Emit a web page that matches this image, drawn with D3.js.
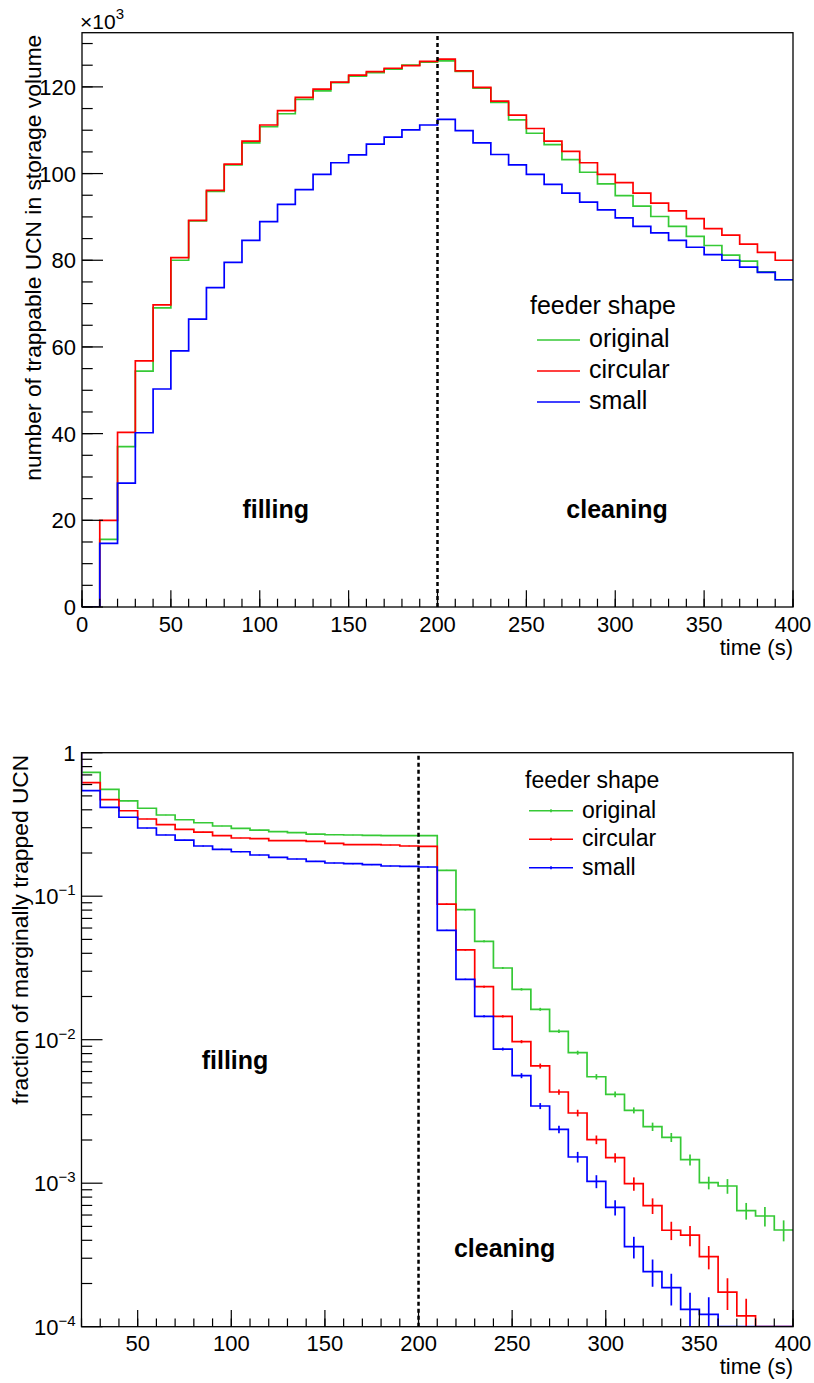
<!DOCTYPE html>
<html>
<head>
<meta charset="utf-8">
<script src="https://cdn.jsdelivr.net/npm/d3@7"></script>
<style>
  body { margin: 0; background: #fff; }
  svg { display: block; }
  text { font-family: "Liberation Sans", Arial, Helvetica, sans-serif; fill: #000; }
</style>
</head>
<body>
<svg id="chart" width="814" height="1383"></svg>
<script>
// ---- data -------------------------------------------------------------
const BIN = 10;                       // bin width, s
const shapes = ["original", "circular", "small"];
const shapeColors = ["#36c936", "#ff0000", "#0000ff"];

// trappable UCN in the storage volume (units of 10^3), 10 s bins from t = 0
const trapStart = 0;
const trapOriginal = [0, 15.6, 37.0, 54.4, 69.0, 80.0, 89.1, 95.9, 102.0, 107.1,
  110.8, 113.8, 117.1, 119.1, 121.0, 122.5, 123.3, 124.1, 125.0, 125.7,
  126.0, 123.6, 119.7, 116.4, 112.4, 109.3, 106.7, 103.2, 100.3, 97.6,
  94.9, 92.5, 90.1, 87.8, 85.5, 83.4, 81.2, 79.8, 77.3, 75.5];
const trapCircular = [0, 20.0, 40.3, 56.8, 69.7, 80.6, 89.2, 96.1, 102.2, 107.5,
  111.2, 114.5, 117.6, 119.5, 121.1, 122.7, 123.5, 124.3, 124.9, 125.9,
  126.4, 123.7, 119.9, 116.7, 113.5, 110.4, 107.5, 105.1, 102.5, 99.8,
  97.9, 95.5, 93.2, 91.4, 89.6, 87.3, 85.8, 83.7, 81.8, 80.0];
const trapSmall = [0, 14.7, 28.6, 40.2, 50.3, 59.1, 66.4, 73.7, 79.5, 84.6,
  88.9, 92.9, 96.3, 99.8, 102.5, 104.3, 106.8, 108.4, 110.1, 111.2,
  112.5, 109.9, 107.1, 104.4, 102.0, 99.8, 97.5, 95.5, 93.4, 91.6,
  89.8, 87.8, 86.3, 84.6, 83.0, 81.3, 80.0, 78.4, 77.2, 75.5];

// fraction of marginally trapped UCN, 10 s bins from t = 10
const margStart = 10;
const margOriginal = [1, 0.730, 0.556, 0.461, 0.410, 0.368, 0.341, 0.325, 0.3085, 0.297,
  0.289, 0.2815, 0.277, 0.271, 0.268, 0.267, 0.2655, 0.264, 0.264, 0.264,
  0.1515, 0.0805, 0.0485, 0.0316, 0.02244, 0.01629, 0.01144, 0.00812, 0.00552, 0.004163,
  0.00322, 0.002477, 0.002088, 0.001459, 0.001008, 0.000956, 0.000643, 0.000591, 0.000472];
const margCircular = [1, 0.618, 0.471, 0.394, 0.345, 0.315, 0.292, 0.280, 0.264, 0.2545,
  0.2517, 0.2438, 0.2438, 0.241, 0.2336, 0.2285, 0.2285, 0.2274, 0.2238, 0.2227,
  0.0882, 0.0422, 0.0234, 0.01455, 0.00969, 0.00656, 0.00432, 0.003085, 0.00201, 0.001507,
  0.000992, 0.000697, 0.00047, 0.000434, 0.000308, 0.000174, 0.000119, 0, 0];
const margSmall = [1, 0.5434, 0.416, 0.355, 0.2987, 0.267, 0.2463, 0.2238, 0.2123, 0.204,
  0.1937, 0.1866, 0.1816, 0.175, 0.1703, 0.1684, 0.1658, 0.1624, 0.1615, 0.1598,
  0.0578, 0.02635, 0.01455, 0.00861, 0.005617, 0.00345, 0.00237, 0.001523, 0.00103, 0.000679,
  0.000361, 0.0002417, 0.000187, 0.000132, 0.000122, 0, 0, 0, 0];

// statistical uncertainties of the fractions
const margOriginalErr = [0, 0.003, 0.0025, 0.002, 0.002, 0.0018, 0.0017, 0.0016, 0.0016, 0.0015,
  0.0015, 0.0015, 0.0015, 0.0014, 0.0014, 0.0014, 0.0014, 0.0014, 0.0014, 0.0014,
  0.0012, 0.00097, 0.00078, 0.0005, 0.00045, 0.00039, 0.00032, 0.00026, 0.000236, 0.000189,
  0.000155, 0.000166, 0.000151, 0.000128, 0.000102, 0.000112, 0.0000855, 0.000091, 0.0000787];
const margCircularErr = [0, 0.003, 0.0025, 0.002, 0.0018, 0.0017, 0.0016, 0.0015, 0.0015, 0.0014,
  0.0014, 0.0014, 0.0014, 0.0013, 0.0013, 0.0013, 0.0013, 0.0013, 0.0013, 0.0013,
  0.0008, 0.0005, 0.00035, 0.00027, 0.00024, 0.00026, 0.000185, 0.000165, 0.00014, 0.000113,
  0.000106, 0.000087, 0.0000687, 0.0000702, 0.000057, 0.0000433, 0.0000373, 0, 0];
const margSmallErr = [0, 0.0028, 0.0024, 0.002, 0.0018, 0.0016, 0.0015, 0.0014, 0.0014, 0.0013,
  0.0013, 0.0013, 0.0012, 0.0012, 0.0012, 0.0012, 0.0012, 0.0012, 0.0012, 0.0012,
  0.0006, 0.0003, 0.00023, 0.0002, 0.000225, 0.000166, 0.000139, 0.00013, 0.000107, 0.0000831,
  0.0000621, 0.0000522, 0.0000466, 0.0000405, 0.0000383, 0, 0, 0, 0];

// axes
const topXDomain = [0, 400];
const topYDomain = [0, 132.5];
const topXTicks = [0, 50, 100, 150, 200, 250, 300, 350, 400];
const topYTicks = [0, 20, 40, 60, 80, 100, 120];
const botXDomain = [20, 400];
const botYDomain = [1e-4, 1];
const botXTicks = [50, 100, 150, 200, 250, 300, 350, 400];
const botYExponents = [-4, -3, -2, -1, 0];
const switchTime = 200;               // end of filling / start of cleaning

// ---- drawing ------------------------------------------------------------
const svg = d3.select("#chart");
const FONT_AXIS = 22;
const FONT_TITLE = 22.8;

function stepPoints(start, values) {
  const pts = [];
  values.forEach((v, i) => {
    pts.push([start + i * BIN, v], [start + (i + 1) * BIN, v]);
  });
  return pts;
}

function panel(cfg) {
  const g = svg.append("g");
  const x = cfg.x, y = cfg.y;
  const [x0, x1] = x.range();
  const [yb, yt] = y.range();
  const id = "clip" + cfg.name;
  svg.append("clipPath").attr("id", id)
    .append("rect").attr("x", x0).attr("y", yt).attr("width", x1 - x0).attr("height", yb - yt);

  const plot = g.append("g").attr("clip-path", `url(#${id})`);
  const yv = v => y(Math.max(v, cfg.yFloor));
  const line = d3.line().x(d => x(d[0])).y(d => yv(d[1]));

  cfg.series.forEach((s, k) => {
    plot.append("path")
      .attr("d", line(stepPoints(cfg.start, s.values)))
      .attr("fill", "none").attr("stroke", shapeColors[k])
      .attr("stroke-width", 1.7).attr("stroke-linejoin", "miter");
    if (s.errors) {
      s.values.forEach((v, i) => {
        const e = s.errors[i];
        if (!(v > 0) || !(e > 0)) return;
        const tc = cfg.start + (i + 0.5) * BIN;
        plot.append("line")
          .attr("x1", x(tc)).attr("x2", x(tc))
          .attr("y1", yv(v - e)).attr("y2", yv(v + e))
          .attr("stroke", shapeColors[k]).attr("stroke-width", 1.7);
      });
    }
  });

  // phase separator
  g.append("line")
    .attr("x1", x(switchTime)).attr("x2", x(switchTime))
    .attr("y1", yb).attr("y2", yt)
    .attr("stroke", "#000").attr("stroke-width", 2.5).attr("stroke-dasharray", "4 3");

  // frame
  g.append("rect").attr("x", x0).attr("y", yt).attr("width", x1 - x0).attr("height", yb - yt)
    .attr("fill", "none").attr("stroke", "#000").attr("stroke-width", 1.3);

  // x ticks
  cfg.xMinor.forEach(t => {
    g.append("line").attr("x1", x(t)).attr("x2", x(t)).attr("y1", yb).attr("y2", yb - 8.3)
      .attr("stroke", "#000").attr("stroke-width", 1.2);
  });
  cfg.xTicks.forEach(t => {
    g.append("line").attr("x1", x(t)).attr("x2", x(t)).attr("y1", yb).attr("y2", yb - 16.7)
      .attr("stroke", "#000").attr("stroke-width", 1.2);
    g.append("text").attr("x", x(t)).attr("y", yb + cfg.xLabelDy)
      .attr("text-anchor", "middle").attr("font-size", FONT_AXIS).text(t);
  });
  // y ticks
  cfg.yMinor.forEach(t => {
    g.append("line").attr("x1", x0).attr("x2", x0 + 10.7).attr("y1", y(t)).attr("y2", y(t))
      .attr("stroke", "#000").attr("stroke-width", 1.2);
  });
  cfg.yTicks.forEach(t => {
    g.append("line").attr("x1", x0).attr("x2", x0 + 21).attr("y1", y(t)).attr("y2", y(t))
      .attr("stroke", "#000").attr("stroke-width", 1.2);
    cfg.yLabel(g.append("text").attr("x", x0 - 6).attr("y", y(t) + 8)
      .attr("text-anchor", "end").attr("font-size", FONT_AXIS), t);
  });

  // axis titles
  g.append("text").attr("x", x1).attr("y", yb + cfg.xTitleDy)
    .attr("text-anchor", "end").attr("font-size", FONT_AXIS).text("time (s)");
  g.append("text")
    .attr("transform", `translate(${cfg.yTitleX},${yt + 2}) rotate(-90)`)
    .attr("text-anchor", "end").attr("font-size", FONT_TITLE).text(cfg.yTitle);

  // phase labels
  cfg.phaseLabels.forEach(p => {
    g.append("text").attr("x", x(p.t)).attr("y", p.y)
      .attr("text-anchor", "middle").attr("font-size", 25).attr("font-weight", "bold").text(p.text);
  });

  // legend
  const L = cfg.legend;
  g.append("text").attr("x", L.x).attr("y", L.titleY).attr("font-size", L.font).text("feeder shape");
  shapes.forEach((name, k) => {
    const ry = L.rowY + k * L.rowGap;
    g.append("line").attr("x1", L.lineX).attr("x2", L.lineX + L.lineLen).attr("y1", ry).attr("y2", ry)
      .attr("stroke", shapeColors[k]).attr("stroke-width", 1.6);
    if (L.errMark) {
      g.append("line").attr("x1", L.lineX + L.lineLen / 2).attr("x2", L.lineX + L.lineLen / 2)
        .attr("y1", ry - 1.5).attr("y2", ry + 1.5).attr("stroke", shapeColors[k]).attr("stroke-width", 1.6);
    }
    g.append("text").attr("x", L.textX).attr("y", ry + L.textDy).attr("font-size", L.font).text(name);
  });
  return g;
}

// upper panel: number of trappable UCN
const xTop = d3.scaleLinear().domain(topXDomain).range([82, 793]);
const yTop = d3.scaleLinear().domain(topYDomain).range([607, 32.7]);
const gTop = panel({
  name: "Top", x: xTop, y: yTop, start: trapStart, yFloor: -Infinity,
  series: [{ values: trapOriginal }, { values: trapCircular }, { values: trapSmall }],
  xTicks: topXTicks, xMinor: d3.range(0, 401, 10),
  yTicks: topYTicks, yMinor: d3.range(0, 132.5, 5),
  yLabel: (t, v) => t.text(v),
  xLabelDy: 25, xTitleDy: 48,
  yTitle: "number of trappable UCN in storage volume", yTitleX: 41,
  phaseLabels: [{ t: 109, y: 518, text: "filling" }, { t: 301, y: 518, text: "cleaning" }],
  legend: { x: 530, titleY: 314, font: 25, rowY: 340, rowGap: 31, lineX: 537, lineLen: 43,
            textX: 589, textDy: 7, errMark: false }
});
// common factor of the upper y axis
const mult = gTop.append("text").attr("x", 80).attr("y", 29).attr("font-size", 21);
mult.append("tspan").text("\u00d710");
mult.append("tspan").attr("dy", -10).attr("font-size", 15).text("3");

// lower panel: fraction of marginally trapped UCN
const xBot = d3.scaleLinear().domain(botXDomain).range([81.5, 793]);
const yBot = d3.scaleLog().domain(botYDomain).range([1326.7, 752.7]);
const botMinor = [];
botYExponents.slice(0, -1).forEach(e => d3.range(2, 10).forEach(m => botMinor.push(m * Math.pow(10, e))));
panel({
  name: "Bot", x: xBot, y: yBot, start: margStart, yFloor: botYDomain[0],
  series: [{ values: margOriginal, errors: margOriginalErr },
           { values: margCircular, errors: margCircularErr },
           { values: margSmall, errors: margSmallErr }],
  xTicks: botXTicks, xMinor: d3.range(20, 401, 10),
  yTicks: botYExponents.map(e => Math.pow(10, e)), yMinor: botMinor,
  yLabel: (t, v) => {
    const e = Math.round(Math.log10(v));
    if (e === 0) { t.text("1"); return; }
    t.append("tspan").text("10");
    t.append("tspan").attr("dy", -9).attr("font-size", 15).text("\u2212" + Math.abs(e));
  },
  xLabelDy: 24, xTitleDy: 47,
  yTitle: "fraction of marginally trapped UCN", yTitleX: 28,
  phaseLabels: [{ t: 102, y: 1069, text: "filling" }, { t: 246, y: 1257, text: "cleaning" }],
  legend: { x: 525, titleY: 788, font: 23, rowY: 810.7, rowGap: 28.5, lineX: 529, lineLen: 44,
            textX: 582, textDy: 7, errMark: true }
});
</script>
</body>
</html>
